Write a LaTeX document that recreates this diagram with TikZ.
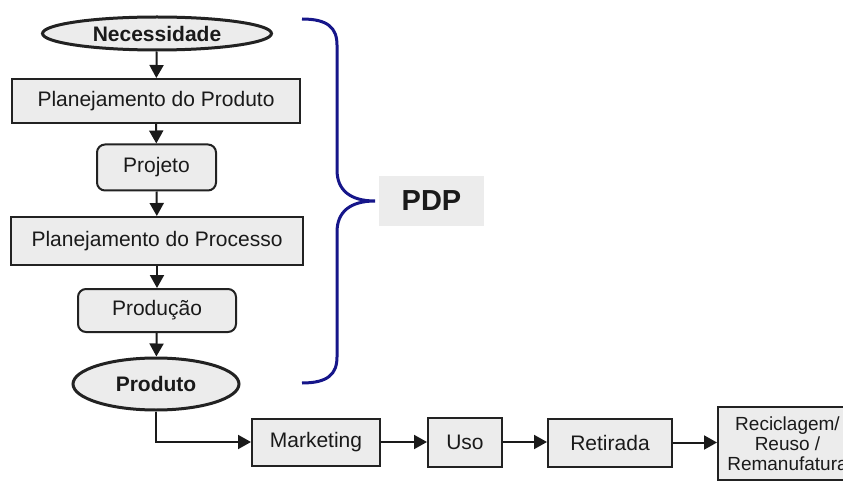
\documentclass[tikz,border=0pt]{standalone}
\usepackage{fontspec}
\setmainfont{Liberation Sans}
\usetikzlibrary{shapes.geometric,arrows.meta}
\definecolor{boxfill}{HTML}{ECECEC}
\definecolor{ink}{HTML}{1A1A1A}
\definecolor{edge}{HTML}{222222}
\definecolor{bracecol}{RGB}{22,22,138}
\tikzset{
  base/.style={fill=boxfill, draw=edge, text=ink, font=\fontsize{21}{24}\selectfont,
    inner sep=0pt, anchor=center},
  rectbox/.style={base, rectangle, line width=2pt},
  roundbox/.style={base, rectangle, rounded corners=8pt, line width=2pt},
  terminal/.style={base, ellipse, line width=3pt, font=\fontsize{21}{24}\selectfont\bfseries},
  flow/.style={draw=ink, line width=2pt, -{Triangle[length=13pt,width=14pt]}},
}
\begin{document}
\begin{tikzpicture}[x=1pt, y=-1pt]
\useasboundingbox (0,0) rectangle (843,481);
\clip (0,0) rectangle (843,481);

% process chain
\node[terminal, minimum width=229pt, minimum height=33pt] (nec) at (157,33.5) {Necessidade};
\node[rectbox, minimum width=288pt, minimum height=44pt] (pprod) at (156,101) {Planejamento do Produto};
\node[roundbox, minimum width=119pt, minimum height=46pt] (proj) at (156.5,167.5) {Projeto};
\node[rectbox, minimum width=292pt, minimum height=48pt] (pproc) at (157,241) {Planejamento do Processo};
\node[roundbox, minimum width=158pt, minimum height=43pt] (prod) at (157,310.5) {Produção};
\node[terminal, minimum width=166pt, minimum height=52pt] (produto) at (156,384) {Produto};

% life cycle after production
\node[rectbox, minimum width=128pt, minimum height=47pt] (mkt) at (316,442) {Marketing};
\node[rectbox, minimum width=74pt, minimum height=49pt] (uso) at (465,442) {Uso};
\node[rectbox, minimum width=124pt, minimum height=48pt] (ret) at (610,442.5) {Retirada};
\node[rectbox, minimum width=139pt, minimum height=73pt, align=center,
      font=\fontsize{19}{20}\selectfont] (rec) at (787.5,443.5) {Reciclagem/\\Reuso /\\Remanufatura};

% PDP label
\node[fill=boxfill, text=ink, inner sep=0pt, minimum width=105pt, minimum height=50pt,
      font=\fontsize{29}{32}\selectfont\bfseries] (pdp) at (431.5,201) {PDP};

% connectors
\draw[flow] (nec) -- (pprod);
\draw[flow] (pprod) -- (proj);
\draw[flow] (proj) -- (pproc);
\draw[flow] (pproc) -- (prod);
\draw[flow] (prod) -- (produto);
\draw[flow] (produto.south) |- (mkt.west);
\draw[flow] (mkt.east) -- (uso.west |- mkt.east);
\draw[flow] (uso.east) -- (ret.west |- uso.east);
\draw[flow] (ret.east) -- (rec.west |- ret.east);

% brace grouping the PDP phases
\draw[bracecol, line width=3pt]
  (302,19) .. controls (328,19) and (337,28) .. (337,45)
  -- (337,170) .. controls (337,190) and (350,201) .. (375,201)
  .. controls (350,201) and (337,212) .. (337,232)
  -- (337,357) .. controls (337,374) and (328,383) .. (302,383);
\end{tikzpicture}
\end{document}
